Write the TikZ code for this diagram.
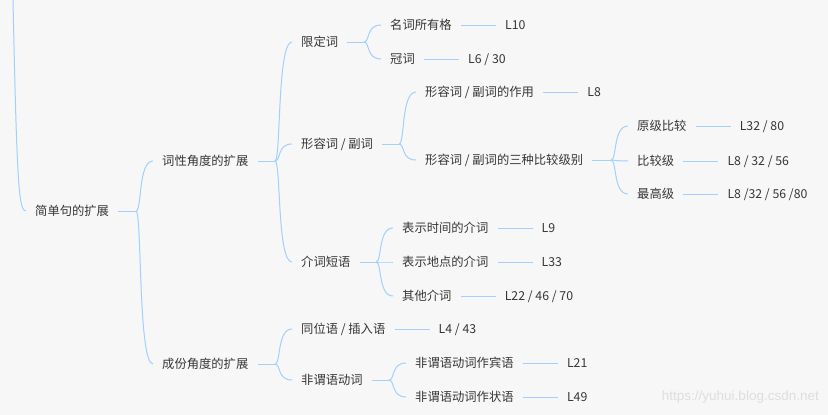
\documentclass[tikz,border=0pt]{standalone}
\usepackage{fontspec}
\setmainfont{Noto Sans CJK SC}
\newfontfamily\markfont{Liberation Sans}
\usetikzlibrary{positioning}

\definecolor{bggray}{HTML}{F7F7F7}
\definecolor{txtgray}{HTML}{363636}
\definecolor{linkblue}{HTML}{A3CFFF}
\definecolor{markgray}{HTML}{DEDEDE}

\tikzset{
  topic/.style={anchor=west, inner xsep=9pt, inner ysep=0pt, text=txtgray,
    font=\fontsize{12.3}{14}\selectfont, text height=10.5pt, text depth=1.5pt},
  lesson/.style={topic, right=35pt of #1},
  link/.style={draw=linkblue, line width=1pt}
}

\begin{document}
\begin{tikzpicture}[x=1pt, y=-1pt]
	\fill [bggray] (0, 0) rectangle (828, 415);
	\useasboundingbox (0, 0) rectangle (828, 415);

	% topics
	\node [topic] (root) at (26, 211) {简单句的扩展};
	\node [topic] (cx) at (153, 161) {词性角度的扩展};
	\node [topic] (cf) at (153, 364) {成份角度的扩展};
	\node [topic] (xd) at (292, 42) {限定词};
	\node [topic] (xr) at (292, 144) {形容词 / 副词};
	\node [topic] (jd) at (292, 262) {介词短语};
	\node [topic] (tw) at (292, 329) {同位语 / 插入语};
	\node [topic] (fw) at (292, 380) {非谓语动词};
	\node [topic] (mc) at (381, 25) {名词所有格};
	\node [topic] (gc) at (381, 59) {冠词};
	\node [topic] (zy) at (416, 92) {形容词 / 副词的作用};
	\node [topic] (bj) at (416, 160) {形容词 / 副词的三种比较级别};
	\node [topic] (yj) at (628, 126) {原级比较};
	\node [topic] (bjj) at (628, 161) {比较级};
	\node [topic] (zg) at (628, 194) {最高级};
	\node [topic] (sj) at (393, 228) {表示时间的介词};
	\node [topic] (dd) at (393, 262) {表示地点的介词};
	\node [topic] (qt) at (393, 296) {其他介词};
	\node [topic] (by) at (406, 363) {非谓语动词作宾语};
	\node [topic] (zz) at (406, 397) {非谓语动词作状语};

	% lessons
	\node [lesson=mc] (lmc) {L10};
	\node [lesson=gc] (lgc) {L6 / 30};
	\node [lesson=zy] (lzy) {L8};
	\node [lesson=yj] (lyj) {L32 / 80};
	\node [lesson=bjj] (lbjj) {L8 / 32 / 56};
	\node [lesson=zg] (lzg) {L8 /32 / 56 /80};
	\node [lesson=sj] (lsj) {L9};
	\node [lesson=dd] (ldd) {L33};
	\node [lesson=qt] (lqt) {L22 / 46 / 70};
	\node [lesson=tw] (ltw) {L4 / 43};
	\node [lesson=by] (lby) {L21};
	\node [lesson=zz] (lzz) {L49};

	% branches
	\coordinate (top) at (13, 0);
	\draw [link] (top) .. controls (17, 190) and (19, 211) .. (root.west);
	\foreach \p/\c/\kids in {root/cx/{cx,cf}, cx/xd/{xd,xr,jd}, cf/tw/{tw,fw},
	    xd/mc/{mc,gc}, xr/zy/{zy,bj}, bj/yj/{yj,bjj,zg}, jd/sj/{sj,dd,qt}, fw/by/{by,zz}} {
		\coordinate (j-\p) at ([xshift=-17pt]\c.west |- \p.east);
		\draw [link] (\p.east) -- (j-\p);
		\foreach \k in \kids
			\draw [link] (j-\p) .. controls ([xshift=6pt]j-\p) and ([xshift=-15pt]\k.west) .. (\k.west);
	}
	\foreach \t in {mc,gc,zy,yj,bjj,zg,sj,dd,qt,tw,by,zz}
		\draw [link] (\t.east) -- (l\t.west);

	\node [anchor=east, text=markgray, font=\markfont\fontsize{13.5}{15}\selectfont, inner sep=0pt]
		(mark) at (819, 397) {https://yuhui.blog.csdn.net};
\end{tikzpicture}
\end{document}
